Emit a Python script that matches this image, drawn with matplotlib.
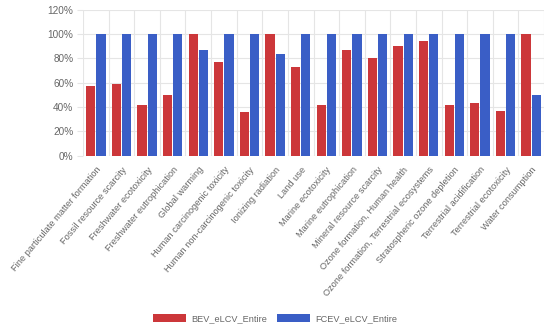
import matplotlib.pyplot as plt
import numpy as np
from matplotlib.ticker import FuncFormatter

categories = [
    "Fine particulate matter formation", "Fossil resource scarcity",
    "Freshwater ecotoxicity", "Freshwater eutrophication", "Global warming",
    "Human carcinogenic toxicity", "Human non-carcinogenic toxicity",
    "Ionizing radiation", "Land use", "Marine ecotoxicity",
    "Marine eutrophication", "Mineral resource scarcity",
    "Ozone formation, Human health", "Ozone formation, Terrestrial ecosystems",
    "Stratospheric ozone depletion", "Terrestrial acidification",
    "Terrestrial ecotoxicity", "Water consumption",
]
bev = [57, 59, 42, 50, 100, 77, 36, 100, 73, 42, 87, 80, 90, 94, 42, 43, 37, 100]
fcev = [100, 100, 100, 100, 87, 100, 100, 84, 100, 100, 100, 100, 100, 100, 100, 100, 100, 50]
series_names = ["BEV_eLCV_Entire", "FCEV_eLCV_Entire"]

plt.rcParams['font.family'] = ['Liberation Sans', 'DejaVu Sans']

fig = plt.figure(figsize=(5.5, 3.31), dpi=100)
ax = fig.add_axes([0.151, 0.530, 0.838, 0.440])

x = np.arange(len(categories))
w = 0.36
ax.bar(x - 0.2, bev, w, color="#CC373A", label=series_names[0], zorder=3)
ax.bar(x + 0.2, fcev, w, color="#3A5EC6", label=series_names[1], zorder=3)

ax.set_xlim(-0.5, len(categories) - 0.5)
ax.set_ylim(0, 120)
ax.set_yticks(range(0, 121, 20))
ax.yaxis.set_major_formatter(FuncFormatter(lambda v, p: f"{int(v)}%"))

# category grid lines between groups
ax.set_xticks(np.arange(-0.5, len(categories), 1), minor=True)
ax.set_xticks(x)
ax.set_xticklabels(categories, rotation=50, ha='right', rotation_mode='anchor',
                   fontsize=6.7, color="#666666")
ax.tick_params(axis='x', which='major', length=0, pad=7)
ax.tick_params(axis='x', which='minor', length=0)
ax.tick_params(axis='y', length=4, color="#e5e5e5", labelsize=7.2,
               labelcolor="#666666", pad=3)
ax.grid(True, which='minor', axis='x', color="#e5e5e5", lw=0.8, zorder=0)
ax.grid(True, which='major', axis='y', color="#e5e5e5", lw=0.8, zorder=0)
for s in ax.spines.values():
    s.set_visible(False)

fig.legend(loc='lower center', bbox_to_anchor=(0.5, 0.0), ncol=2, frameon=False,
           fontsize=6.6, labelcolor="#666666", handlelength=3.6, handleheight=1.0,
           columnspacing=1.0, handletextpad=0.6)

fig.savefig("out.png", dpi=100)
